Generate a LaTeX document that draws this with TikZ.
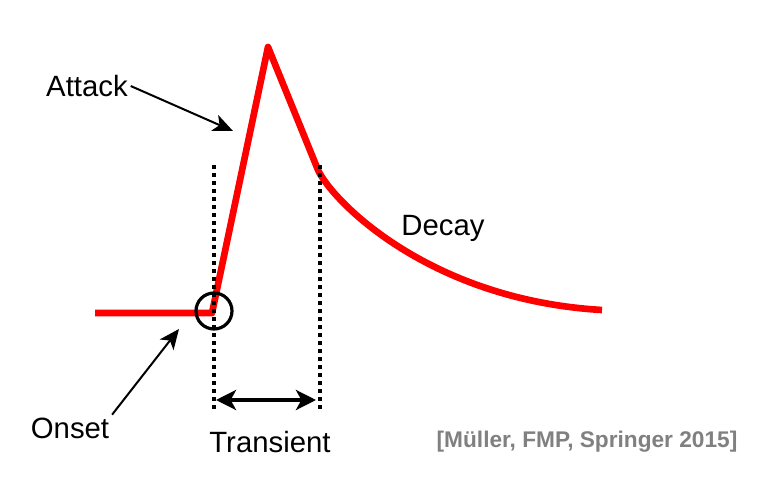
\documentclass[tikz,border=0pt]{standalone}
\usepackage{fontspec}
\setmainfont{Liberation Sans}
\usetikzlibrary{arrows.meta}

\begin{document}
\begin{tikzpicture}[x=0.75pt, y=-0.75pt,
  courbe/.style={red, line width=5pt, line join=round},
  fleche/.style={line width=1.5pt, -{Stealth[length=15pt, width=13pt, inset=4pt]}},
  pointille/.style={line width=3pt, dash pattern=on 3pt off 3pt},
  etiquette/.style={font=\fontsize{22}{24}\selectfont, inner sep=2pt},
  citation/.style={font=\bfseries\fontsize{17}{20}\selectfont, text=black!50}]
  \useasboundingbox (0,0) rectangle (778,477);

  % Points de la courbe
  \coordinate (debut) at (95,313);
  \coordinate (onset) at (212,313);
  \coordinate (pic) at (268,47);
  \coordinate (coude) at (318,170);
  \coordinate (fin) at (602,310);

  % Dessinez la courbe rouge
  \draw[courbe] (debut) -- (onset) -- (pic) -- (coude)
    .. controls (333,202) and (430,300) .. (fin);

  % Ajoutez les lignes pointillées
  \coordinate (g1) at (214,165);
  \coordinate (g2) at (214,412);
  \coordinate (d1) at (320,165);
  \coordinate (d2) at (320,412);
  \draw[pointille] (g1) -- (g2);
  \draw[pointille] (d1) -- (d2);

  % Cercle autour du point de départ
  \node[draw, circle, line width=2.4pt, minimum size=27pt] (rond) at (214,311) {};

  % Flèche double du transitoire
  \coordinate (tg) at (216,400);
  \coordinate (td) at (316,400);
  \draw[line width=3pt, {Stealth[length=15pt, width=15pt, inset=4pt]}-{Stealth[length=15pt, width=15pt, inset=4pt]}] (tg) -- (td);

  % Ajoutez les étiquettes
  \node[etiquette] (attack) at (87,86) {Attack};
  \node[etiquette] (onsetlbl) at (70,428) {Onset};
  \node[etiquette] (transient) at (270,442) {Transient};
  \node[etiquette] (decay) at (443,228) {Decay};
  \node[citation] (source) at (587,442) {[Müller, FMP, Springer 2015]};

  % Flèches vers la courbe
  \coordinate (cibleA) at (233,131);
  \coordinate (cibleO) at (179,329);
  \draw[fleche] (attack.east) -- (cibleA);
  \draw[fleche] (onsetlbl.north east) -- (cibleO);
\end{tikzpicture}
\end{document}
